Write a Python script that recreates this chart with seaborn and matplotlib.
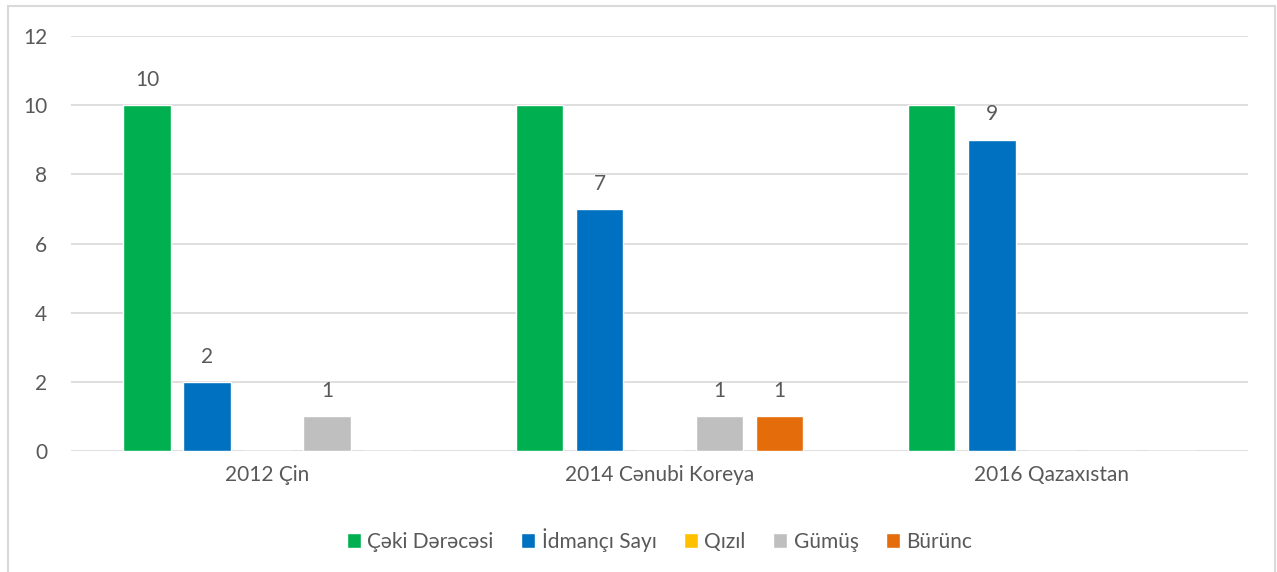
import matplotlib
matplotlib.use("Agg")
import matplotlib.pyplot as plt
import seaborn as sns
import pandas as pd
from matplotlib.patches import Rectangle

categories = ["2012 Çin", "2014 Cənubi Koreya", "2016 Qazaxıstan"]
series = ["Çəki Dərəcəsi", "İdmançı Sayı", "Qızıl", "Gümüş", "Bürünc"]
ceki = [10, 10, 10]
idmanci = [2, 7, 9]
qizil = [0, 0, 0]
gumus = [1, 1, 0]
burunc = [0, 1, 0]
# which data labels are displayed in the original (per series, per category)
label_shown = {
    "Çəki Dərəcəsi": [True, False, False],
    "İdmançı Sayı": [True, True, True],
    "Qızıl": [False, False, False],
    "Gümüş": [True, True, False],
    "Bürünc": [False, True, False],
}
colors = ["#00B050", "#0070C0", "#FFC000", "#BFBFBF", "#E46C0A"]

values = [ceki, idmanci, qizil, gumus, burunc]
rows = []
for s, vals in zip(series, values):
    for c, v in zip(categories, vals):
        rows.append({"cat": c, "series": s, "val": v})
df = pd.DataFrame(rows)

sns.set_theme(style="white")
plt.rcParams["font.family"] = ["Lato", "DejaVu Sans"]
text_color = "#595959"
fs = 15

fig = plt.figure(figsize=(12.77, 5.72), dpi=100)
ax = fig.add_axes([71 / 1277, 1 - 451 / 572, (1248 - 71) / 1277, (451 - 36) / 572])

sns.barplot(data=df, x="cat", y="val", hue="series", order=categories,
            hue_order=series, palette=colors, width=0.765, gap=0.21,
            saturation=1, ax=ax, legend=True)

ax.set_ylim(0, 12)
ax.set_yticks(range(0, 13, 2))
ax.yaxis.grid(True, color="#D9D9D9", linewidth=1.2)
ax.set_axisbelow(True)
for sp in ax.spines.values():
    sp.set_visible(False)
ax.set_xlabel("")
ax.set_ylabel("")
ax.tick_params(axis="both", length=0, labelsize=fs, colors=text_color)
ax.tick_params(axis="y", pad=17)
ax.tick_params(axis="x", pad=10)

for cont, s in zip(ax.containers, series):
    labels = []
    for (v, shown) in zip(df[df.series == s].val, label_shown[s]):
        labels.append(f"{v:g}" if shown else "")
    ax.bar_label(cont, labels=labels, padding=11, fontsize=fs, color=text_color)

handles, lbls = ax.get_legend_handles_labels()
ax.legend(handles, lbls, loc="upper center", bbox_to_anchor=(0.5, -0.14),
          ncol=5, frameon=False, fontsize=fs, handlelength=0.7, handleheight=0.7,
          handletextpad=0.3, columnspacing=1.3, labelcolor=text_color)

fig.patches.append(Rectangle((8 / 1277, -0.05), (1275 - 8) / 1277, 1 - 6 / 572 + 0.05,
                             transform=fig.transFigure, fill=False,
                             edgecolor="#D9D9D9", linewidth=1.5))

fig.savefig("out.png", dpi=100)
